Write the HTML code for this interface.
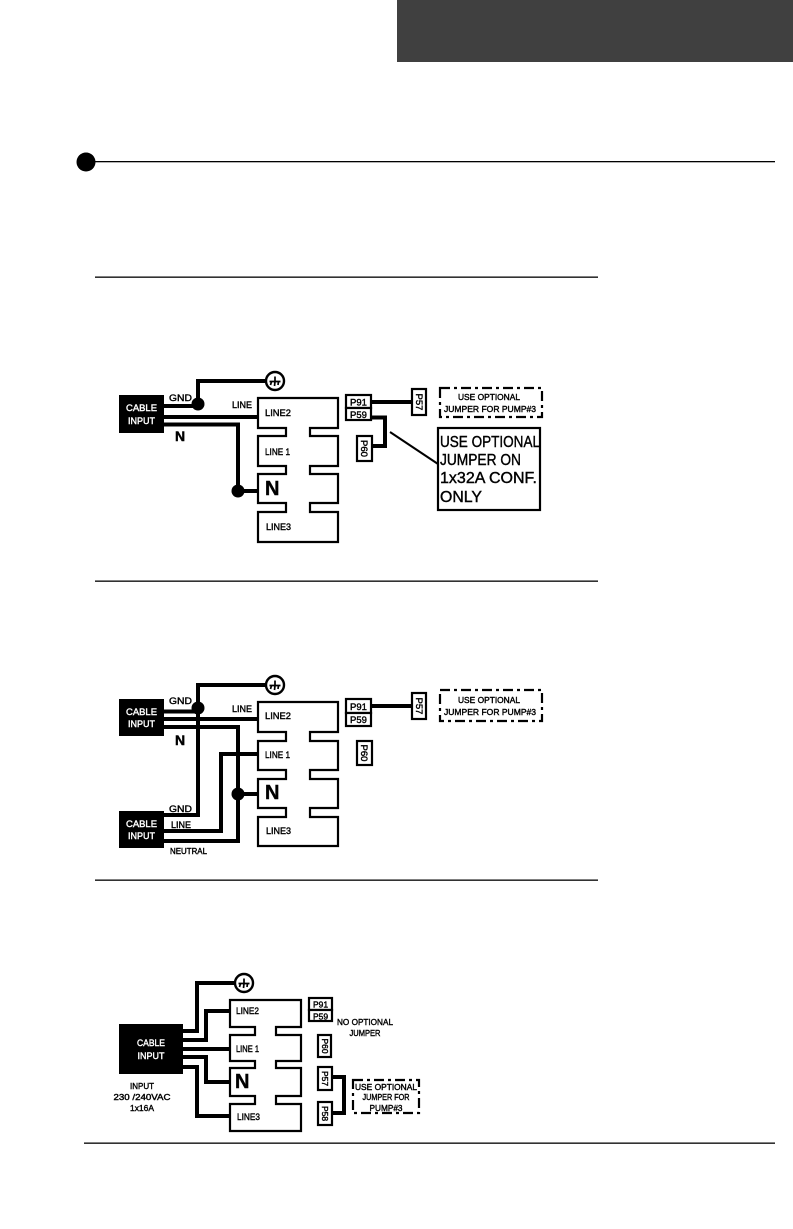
<!DOCTYPE html>
<html><head><meta charset="utf-8"><style>
html,body{margin:0;padding:0;background:#fff}
svg{display:block}
text{font-family:"Liberation Sans",sans-serif;fill:#000;stroke:#000;stroke-width:.4}
.w{fill:#fff;stroke:#fff}
.m{text-anchor:middle}
.wire{fill:none;stroke:#000;stroke-width:4}
.box{fill:#fff;stroke:#000;stroke-width:2.2}
.thin{fill:none;stroke:#000;stroke-width:2}
.dash{fill:none;stroke:#000;stroke-width:2.2;stroke-dasharray:10 4 3 4}
</style></head><body>
<svg width="793" height="1229" viewBox="0 0 793 1229" xmlns="http://www.w3.org/2000/svg">
<defs>
<g id="gnd"><circle r="9" fill="#fff" stroke="#000" stroke-width="2.4"/><path d="M-5.500 0.500H5.500M0 -4.500V0.500M-3.500 0.500L-4.500 4M0 0.500L-0.500 5M3.500 0.500L3 4" fill="none" stroke="#000" stroke-width="1.7"/></g>
</defs>
<rect x="397" y="0" width="396" height="62" fill="#404040"/>
<circle cx="86" cy="162" r="9.500" fill="#000"/>
<rect x="86" y="161" width="689" height="1.300" fill="#000"/>
<rect x="95" y="276.500" width="503" height="1.300" fill="#000"/>
<rect x="95" y="580.500" width="503" height="1.300" fill="#000"/>
<rect x="95" y="879.500" width="503" height="1.300" fill="#000"/>
<rect x="84" y="1142.500" width="691" height="1.300" fill="#000"/>

<!-- Diagram 1 -->
<rect x="119" y="395" width="45" height="38" fill="#000"/>
<text class="w m" x="141.500" y="411" font-size="9.500" lengthAdjust="spacingAndGlyphs" textLength="31">CABLE</text>
<text class="w m" x="141.500" y="424" font-size="9.500" lengthAdjust="spacingAndGlyphs" textLength="27">INPUT</text>
<path class="wire" d="M164 406H198V381H266M164 417H258M164 424.500H238V491H258"/>
<circle cx="198" cy="404" r="6.500"/><circle cx="238" cy="491" r="6.500"/>
<use href="#gnd" x="275" y="381"/>
<path class="box" d="M258 398V428H286V436H258V466H286V474H258V503H286V512H258V542H338V512H310V503H338V474H310V466H338V436H310V428H338V398Z"/>
<text x="169" y="401" font-size="9.500" lengthAdjust="spacingAndGlyphs" textLength="23">GND</text>
<text x="232" y="408" font-size="9.500" lengthAdjust="spacingAndGlyphs" textLength="20">LINE</text>
<text x="175" y="441" font-size="14" font-weight="bold">N</text>
<text x="265" y="416" font-size="9.500" lengthAdjust="spacingAndGlyphs" textLength="26">LINE2</text>
<text x="265" y="455" font-size="9.500" lengthAdjust="spacingAndGlyphs" textLength="25">LINE 1</text>
<text x="265" y="495" font-size="20" font-weight="bold">N</text>
<text x="266" y="530" font-size="9.500" lengthAdjust="spacingAndGlyphs" textLength="25">LINE3</text>
<path class="wire" d="M371 402H412M371 417.500H385V446H373"/>
<rect class="box" x="346" y="395" width="25" height="13"/><rect class="box" x="346" y="408" width="25" height="12"/>
<rect class="box" x="412" y="389" width="14" height="26"/><rect class="box" x="357" y="436" width="15" height="25"/>
<text class="m" x="358.500" y="405.500" font-size="9.500">P91</text>
<text class="m" x="358.500" y="418" font-size="9.500">P59</text>
<text class="m" font-size="9.500" transform="translate(416,402) rotate(90)">P57</text>
<text class="m" font-size="9.500" transform="translate(361,448.500) rotate(90)">P60</text>
<rect class="dash" x="440" y="388" width="102" height="29"/>
<text class="m" x="489" y="400" font-size="8.500" lengthAdjust="spacingAndGlyphs" textLength="62">USE OPTIONAL</text>
<text class="m" x="490" y="412" font-size="8.500" lengthAdjust="spacingAndGlyphs" textLength="92">JUMPER FOR PUMP#3</text>
<path class="thin" d="M390 432L438 464"/>
<rect class="box" x="438" y="428" width="102" height="82"/>
<text x="440" y="447" font-size="15.500" lengthAdjust="spacingAndGlyphs" textLength="100">USE OPTIONAL</text>
<text x="440" y="465" font-size="15.500" lengthAdjust="spacingAndGlyphs" textLength="81">JUMPER ON</text>
<text x="440" y="483" font-size="15.500" lengthAdjust="spacingAndGlyphs" textLength="97">1x32A CONF.</text>
<text x="440" y="502" font-size="15.500" lengthAdjust="spacingAndGlyphs" textLength="42">ONLY</text>

<!-- Diagram 2 -->
<rect x="119" y="699" width="45" height="37" fill="#000"/>
<rect x="119" y="811" width="45" height="37" fill="#000"/>
<text class="w m" x="141.500" y="715" font-size="9.500" lengthAdjust="spacingAndGlyphs" textLength="31">CABLE</text>
<text class="w m" x="141.500" y="727" font-size="9.500" lengthAdjust="spacingAndGlyphs" textLength="27">INPUT</text>
<text class="w m" x="141.500" y="827" font-size="9.500" lengthAdjust="spacingAndGlyphs" textLength="31">CABLE</text>
<text class="w m" x="141.500" y="839" font-size="9.500" lengthAdjust="spacingAndGlyphs" textLength="27">INPUT</text>
<path class="wire" d="M164 711.500H198M198 815H164M198 817V685H266M164 719H258M164 727H238V841H164M164 831H221V754H258M238 794H258"/>
<circle cx="198" cy="708" r="6.500"/><circle cx="238" cy="794" r="6.500"/>
<use href="#gnd" x="275" y="685"/>
<path class="box" d="M258 702V732H286V741H258V770H286V779H258V808H286V817H258V846H338V817H310V808H338V779H310V770H338V741H310V732H338V702Z"/>
<text x="169" y="704" font-size="9.500" lengthAdjust="spacingAndGlyphs" textLength="23">GND</text>
<text x="232" y="712" font-size="9.500" lengthAdjust="spacingAndGlyphs" textLength="20">LINE</text>
<text x="175" y="745" font-size="14" font-weight="bold">N</text>
<text x="169" y="812" font-size="9.500" lengthAdjust="spacingAndGlyphs" textLength="23">GND</text>
<text x="171" y="828" font-size="9.500" lengthAdjust="spacingAndGlyphs" textLength="20">LINE</text>
<text x="170" y="854" font-size="8.500" lengthAdjust="spacingAndGlyphs" textLength="37">NEUTRAL</text>
<text x="265" y="719" font-size="9.500" lengthAdjust="spacingAndGlyphs" textLength="26">LINE2</text>
<text x="265" y="758" font-size="9.500" lengthAdjust="spacingAndGlyphs" textLength="25">LINE 1</text>
<text x="265" y="799" font-size="20" font-weight="bold">N</text>
<text x="266" y="834" font-size="9.500" lengthAdjust="spacingAndGlyphs" textLength="25">LINE3</text>
<path class="wire" d="M371 706H412"/>
<rect class="box" x="346" y="699" width="25" height="14"/><rect class="box" x="346" y="713" width="25" height="13"/>
<rect class="box" x="412" y="693" width="14" height="26"/><rect class="box" x="357" y="741" width="15" height="24"/>
<text class="m" x="358.500" y="710" font-size="9.500">P91</text>
<text class="m" x="358.500" y="723" font-size="9.500">P59</text>
<text class="m" font-size="9.500" transform="translate(416,706) rotate(90)">P57</text>
<text class="m" font-size="9.500" transform="translate(361,753) rotate(90)">P60</text>
<rect class="dash" x="440" y="690" width="102" height="31"/>
<text class="m" x="489" y="703" font-size="8.500" lengthAdjust="spacingAndGlyphs" textLength="62">USE OPTIONAL</text>
<text class="m" x="490" y="715" font-size="8.500" lengthAdjust="spacingAndGlyphs" textLength="92">JUMPER FOR PUMP#3</text>

<!-- Diagram 3 -->
<rect x="119" y="1024" width="64" height="50" fill="#000"/>
<text class="w m" x="151" y="1046" font-size="9.500" lengthAdjust="spacingAndGlyphs" textLength="28">CABLE</text>
<text class="w m" x="151" y="1059" font-size="9.500" lengthAdjust="spacingAndGlyphs" textLength="27">INPUT</text>
<path class="wire" d="M183 1031H197V983H236M183 1040H206V1011H230M183 1049H230M183 1057H206V1082H230M183 1067H197V1116H230"/>
<use href="#gnd" x="244" y="983"/>
<path class="box" d="M230 1000V1027H255V1035H230V1061H255V1068H230V1096H255V1104H230V1131H301V1104H276V1096H301V1068H276V1061H301V1035H276V1027H301V1000Z"/>
<text x="236" y="1014" font-size="9.500" lengthAdjust="spacingAndGlyphs" textLength="23">LINE2</text>
<text x="236" y="1052" font-size="9.500" lengthAdjust="spacingAndGlyphs" textLength="23">LINE 1</text>
<text x="235" y="1088" font-size="20" font-weight="bold">N</text>
<text x="237" y="1120" font-size="9.500" lengthAdjust="spacingAndGlyphs" textLength="23">LINE3</text>
<text class="m" x="142" y="1089" font-size="8.500" lengthAdjust="spacingAndGlyphs" textLength="24">INPUT</text>
<text class="m" x="142" y="1100" font-size="8.500" lengthAdjust="spacingAndGlyphs" textLength="57">230 /240VAC</text>
<text class="m" x="142" y="1111" font-size="8.500" lengthAdjust="spacingAndGlyphs" textLength="24">1x16A</text>
<path class="wire" d="M332 1077H344V1113H332"/>
<rect class="box" x="309" y="998" width="23" height="12"/><rect class="box" x="309" y="1010" width="23" height="11"/>
<rect class="box" x="318" y="1035" width="13" height="22"/><rect class="box" x="318" y="1067" width="14" height="23"/><rect class="box" x="318" y="1102" width="14" height="23"/>
<text class="m" x="320.500" y="1007.500" font-size="8.500">P91</text>
<text class="m" x="320.500" y="1019.500" font-size="8.500">P59</text>
<text class="m" font-size="8.500" transform="translate(322,1046) rotate(90)">P60</text>
<text class="m" font-size="8.500" transform="translate(322,1078.500) rotate(90)">P57</text>
<text class="m" font-size="8.500" transform="translate(322,1113.500) rotate(90)">P58</text>
<text class="m" x="365" y="1025" font-size="8.500" lengthAdjust="spacingAndGlyphs" textLength="56">NO OPTIONAL</text>
<text class="m" x="365" y="1036" font-size="8.500" lengthAdjust="spacingAndGlyphs" textLength="31">JUMPER</text>
<rect class="dash" x="353" y="1080" width="66" height="33"/>
<text class="m" x="386" y="1090" font-size="8.500" lengthAdjust="spacingAndGlyphs" textLength="62">USE OPTIONAL</text>
<text class="m" x="386" y="1100" font-size="8.500" lengthAdjust="spacingAndGlyphs" textLength="47">JUMPER FOR</text>
<text class="m" x="386" y="1111" font-size="8.500" lengthAdjust="spacingAndGlyphs" textLength="33">PUMP#3</text>
</svg>
</body></html>
